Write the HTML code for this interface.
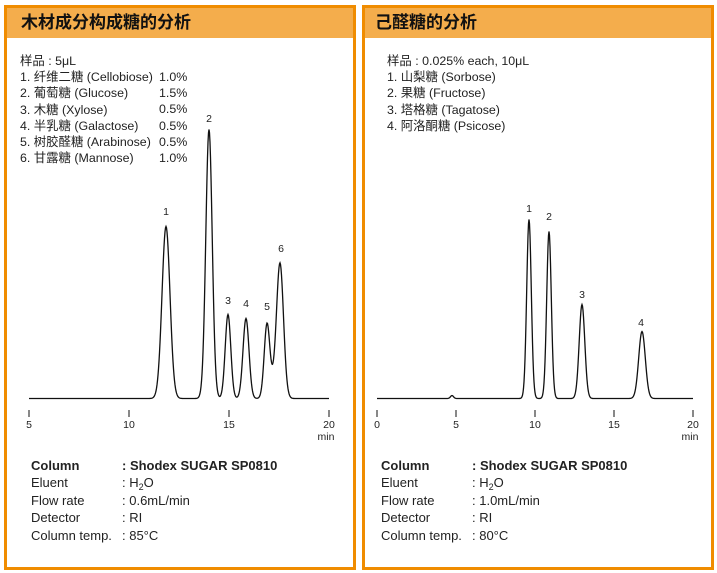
<!DOCTYPE html>
<html><head><meta charset="utf-8"><style>
body{margin:0;width:717px;height:573px;background:#fff;position:relative;overflow:hidden;font-family:"Liberation Sans","Noto Sans CJK SC",sans-serif;color:#222}
.panel{position:absolute;top:5px;width:346px;height:559px;border:3px solid #f08c00;background:#fff}
.hd{position:absolute;left:0;top:0;right:0;height:30px;background:#f4ad4c;font-weight:bold;font-size:17px;line-height:30px;padding-left:14px;color:#111}
.t{position:absolute;font-size:12.4px;line-height:16.2px;white-space:pre}
.p{position:absolute;font-size:12.4px;line-height:16.2px;white-space:pre}
.c{position:absolute;font-size:13px;line-height:17.4px;white-space:pre}
sub{font-size:9px;line-height:0;vertical-align:-3px}
svg{position:absolute;left:0;top:0}
</style></head><body>
<div class="panel" style="left:4px"><div class="hd">木材成分构成糖的分析</div></div>
<div class="panel" style="left:362px"><div class="hd" style="padding-left:10px">己醛糖的分析</div></div>
<div class="t" style="left:20px;top:53px">样品 : 5μL
1. 纤维二糖 (Cellobiose)
2. 葡萄糖 (Glucose)
3. 木糖 (Xylose)
4. 半乳糖 (Galactose)
5. 树胶醛糖 (Arabinose)
6. 甘露糖 (Mannose)</div>
<div class="p" style="left:159px;top:69px">1.0%
1.5%
0.5%
0.5%
0.5%
1.0%</div>
<div class="t" style="left:387px;top:53px">样品 : 0.025% each, 10μL
1. 山梨糖 (Sorbose)
2. 果糖 (Fructose)
3. 塔格糖 (Tagatose)
4. 阿洛酮糖 (Psicose)</div>
<div class="c" style="left:31px;top:457px"><b>Column</b>
Eluent
Flow rate
Detector
Column temp.</div>
<div class="c" style="left:122px;top:457px"><b>: Shodex SUGAR SP0810</b>
: H<sub>2</sub>O
: 0.6mL/min
: RI
: 85°C</div>
<div class="c" style="left:381px;top:457px"><b>Column</b>
Eluent
Flow rate
Detector
Column temp.</div>
<div class="c" style="left:472px;top:457px"><b>: Shodex SUGAR SP0810</b>
: H<sub>2</sub>O
: 1.0mL/min
: RI
: 80°C</div>
<svg width="717" height="573" font-family="Liberation Sans, sans-serif" font-size="11" fill="#222">
<path id="L" fill="none" stroke="#111" stroke-width="1.3"/>
<path id="R" fill="none" stroke="#111" stroke-width="1.3"/>
<g stroke="#111" stroke-width="1">
<line x1="29" y1="410" x2="29" y2="417"/><line x1="129" y1="410" x2="129" y2="417"/><line x1="229" y1="410" x2="229" y2="417"/><line x1="329" y1="410" x2="329" y2="417"/>
<line x1="377" y1="410" x2="377" y2="417"/><line x1="456" y1="410" x2="456" y2="417"/><line x1="535" y1="410" x2="535" y2="417"/><line x1="614" y1="410" x2="614" y2="417"/><line x1="693" y1="410" x2="693" y2="417"/>
</g>
<g text-anchor="middle" font-size="10.5">
<text x="29" y="428">5</text><text x="129" y="428">10</text><text x="229" y="428">15</text><text x="329" y="428">20</text><text x="326" y="440">min</text>
<text x="377" y="428">0</text><text x="456" y="428">5</text><text x="535" y="428">10</text><text x="614" y="428">15</text><text x="693" y="428">20</text><text x="690" y="440">min</text>
<text x="166" y="215">1</text><text x="209" y="122">2</text><text x="228" y="304">3</text><text x="246" y="307">4</text><text x="267" y="310">5</text><text x="281" y="252">6</text>
<text x="529" y="212">1</text><text x="549" y="220">2</text><text x="582" y="298">3</text><text x="641" y="326">4</text>
</g>
</svg>
<script>
function mk(x0,x1,base,pk){let d="";for(let x=x0;x<=x1;x+=0.5){let y=base;for(const p of pk){y-=p[2]*Math.exp(-Math.pow((x-p[0])/p[1],2)/2);}d+=(d?"L":"M")+x+","+y.toFixed(2);}return d;}
document.getElementById("L").setAttribute("d",mk(29,329,398.5,[[166,4,172],[209,3.2,269],[228,2.8,84],[246,3,80],[267,2.8,74],[280,3.5,135],[273,3,10]]));
document.getElementById("R").setAttribute("d",mk(377,693,398.5,[[452,1.5,3],[529,2.3,179],[549,2.3,167],[582,2.8,94],[642,3.3,67]]));
</script>
</body></html>
